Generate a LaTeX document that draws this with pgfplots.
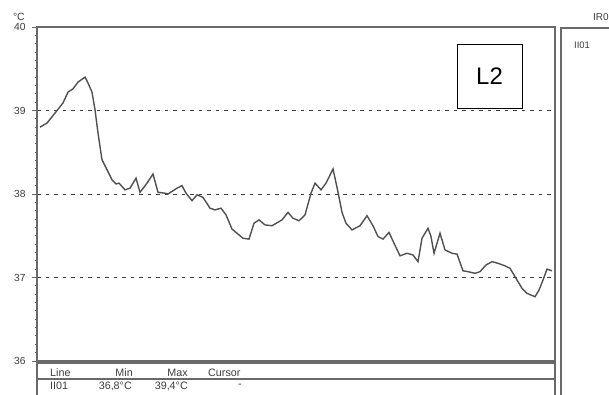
\documentclass[border=0pt]{standalone}
\usepackage{fontspec}
\setmainfont{Liberation Sans}
\usepackage{pgfplots}
\pgfplotsset{compat=1.18}
\definecolor{frame}{RGB}{105,105,105}
\definecolor{curve}{RGB}{80,80,80}
\definecolor{txt}{RGB}{60,60,60}
\begin{document}
\begin{tikzpicture}[x=1bp,y=1bp]
\path[use as bounding box] (0,0) rectangle (609,394);
\begin{axis}[
  at={(37bp,33bp)}, anchor=south west,
  width=518bp, height=334bp, scale only axis,
  xmin=37, xmax=555, ymin=36, ymax=40,
  xtick=\empty,
  ytick={36,37,38,39,40},
  ytick pos=left,
  minor y tick num=9,
  tick align=outside,
  major tick length=5bp, minor tick length=2.5bp,
  tick style={frame, line width=1bp},
  axis line style={frame, line width=1.6bp},
  ymajorgrids, grid style={txt, dash pattern=on 3.5bp off 5bp, line width=1bp},
  yticklabel style={font=\fontsize{10.3}{10}\selectfont, text=txt, anchor=east, xshift=-3bp},
  /pgf/number format/assume math mode=true,
  clip=false,
]
\addplot[curve, line width=1.4bp] coordinates {
(40,38.80) (47,38.85) (55,38.97) (63,39.09) (68,39.22) (73,39.26) (78,39.34) (85,39.40)
(88,39.33) (92,39.22) (95,39.01) (98,38.73) (102,38.41) (107,38.29) (112,38.17) (116,38.12)
(119,38.13) (125,38.05) (130,38.07) (136,38.19) (140,38.02) (147,38.13) (153,38.24) (158,38.02)
(165,38.01) (168,38.00) (177,38.07) (182,38.10) (186,38.01) (192,37.92) (197,37.99) (203,37.96)
(210,37.83) (215,37.81) (221,37.83) (226,37.75) (232,37.58) (238,37.52) (243,37.47) (249,37.46)
(254,37.65) (259,37.69) (265,37.63) (272,37.62) (282,37.69) (288,37.78) (293,37.71) (299,37.68)
(305,37.75) (311,38.01) (315,38.13) (321,38.05) (326,38.13) (333,38.30) (337,38.08) (342,37.78)
(346,37.65) (352,37.57) (360,37.62) (367,37.74) (373,37.62) (378,37.49) (383,37.46) (389,37.54)
(394,37.41) (400,37.26) (407,37.29) (413,37.27) (418,37.19) (422,37.47) (428,37.59) (431,37.49)
(434,37.29) (440,37.53) (445,37.33) (452,37.29) (457,37.28) (463,37.08) (468,37.07) (475,37.05)
(480,37.07) (486,37.15) (492,37.19) (498,37.17) (505,37.14) (510,37.11) (516,36.99) (522,36.87)
(527,36.81) (535,36.77) (539,36.85) (543,36.97) (547,37.10) (552,37.08)
};
\end{axis}
% unit label
\node[font=\fontsize{10.5}{10}\selectfont, text=txt, anchor=east, inner sep=0] at (25,377) {°C};
% L2 box
\draw[black, line width=0.8bp, fill=white] (457,286) rectangle (522,350);
\node[font=\fontsize{24}{24}\selectfont, text=black] at (489.5,318) {L2};
% table below
\draw[frame, line width=1.6bp] (37,-10) -- (37,31) -- (555,31) -- (555,-10);
\draw[frame, line width=1.4bp] (37,15) -- (555,15);
\begin{scope}[font=\fontsize{10.8}{10}\selectfont, text=txt, inner sep=0]
\node[anchor=west] at (50,21) {Line};
\node[anchor=east] at (133,21) {Min};
\node[anchor=east] at (188,21) {Max};
\node[anchor=west] at (208,21) {Cursor};
\node[anchor=west] at (50,8) {II01};
\node[anchor=east] at (132,8) {36,8°C};
\node[anchor=east] at (188,8) {39,4°C};
\node at (240,8) {-};
\end{scope}
% right panel
\draw[frame, line width=1.6bp] (561,-10) -- (561,366) -- (620,366);
\node[font=\fontsize{9.5}{9}\selectfont, text=txt, anchor=west, inner sep=0] at (574,349) {II01};
\node[font=\fontsize{10}{9}\selectfont, text=txt, anchor=west, inner sep=0] at (593,377) {IR0};
\end{tikzpicture}
\end{document}
